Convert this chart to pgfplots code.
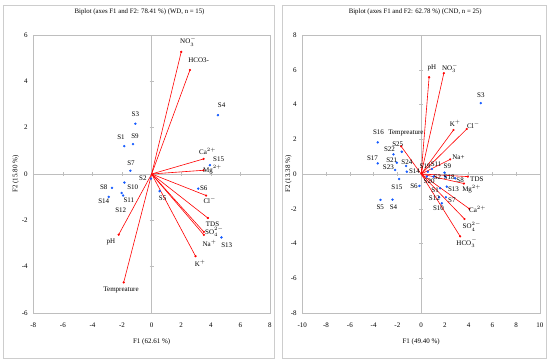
\documentclass[border=0pt]{standalone}
\usepackage{pgfplots}
\usepackage{pgfplotstable}
\usepackage{fontspec}
\setmainfont{Liberation Serif}
\pgfplotsset{compat=1.18}
\definecolor{obsblue}{RGB}{20,90,255}
\definecolor{framegray}{RGB}{205,205,205}
\definecolor{boxgray}{RGB}{190,190,190}

% ---------- WD (left) ----------
\pgfplotstableread{
x y lab dx dy
-1.85 1.20 S1 -3.3 9
-0.05 -0.20 S2 -8 0
-1.10 2.17 S3 0 9.3
4.48 2.54 S4 3.7 10
0.54 -0.74 S5 3 -7
3.15 -0.63 S6 5.5 0
-1.44 0.14 S7 0.7 8
-2.68 -0.60 S8 -8.3 0.3
-1.26 1.29 S9 2 7.7
-1.84 -0.37 S10 8.3 -4.3
-2.03 -0.82 S11 7.3 -7
-1.93 -0.93 S12 -2.3 -14.3
4.72 -2.74 S13 5.3 -8
-2.90 -0.99 S14 -5 -4.3
3.94 0.38 S15 8.7 6
}\wdobs

\pgfplotstableread{
x y lab dx dy
2.00 5.27 {NO$_3^-$} 7 10
2.59 4.49 {HCO3-} 8.7 9.3
3.51 0.65 {Ca$^{2+}$} 4 7.7
3.50 0.16 {Mg$^{2+}$} 9 0.7
3.68 -0.93 {Cl$^-$} 3.7 -5.3
3.80 -1.90 {TDS} 4.7 -6
3.53 -2.50 {SO\smash{$_4^{2-}$}} 10.5 0
3.53 -2.63 {Na\smash{$^+$}} 5.7 -9
2.97 -3.55 {K$^+$} 4.7 -7.3
-2.23 -2.62 {pH} -7.7 -7.7
-1.89 -4.68 {Tempreature} -2.7 -7.3
}\wdvar

% ---------- CND (right) ----------
\pgfplotstableread{
x y lab dx dy
1.60 -0.82 S1 -5 -1.7
1.04 -0.15 S2 4 -1
5.02 4.08 S3 0 7.7
-2.41 -1.48 S4 1 -7.7
-3.42 -1.49 S5 -0.3 -7.3
-0.14 -0.69 S6 -5.5 0
2.08 -1.34 S7 6 -3.3
2.86 -0.25 S8 5 -1.7
1.96 0.08 S9 3 6
1.74 -1.69 S10 -3.3 -5
0.90 0.29 S11 4.3 5
1.51 -1.34 S12 -4.7 -1
2.16 -0.73 S13 6.7 -2.7
-1.21 0.13 S14 7.7 1
-1.85 -0.29 S15 -2.3 -7.7
-3.65 1.82 S16 0.7 9.7
-3.65 0.61 S17 -5.3 5
2.02 -0.15 S18 4 -1
0.56 0.13 S19 -2.7 5.7
0.48 -0.15 S20 2.3 -4.3
-2.05 0.65 S21 -5 2
-2.33 1.13 S22 -4 5
-2.19 0.23 S23 -6.7 2.3
-1.26 0.46 S24 0.7 3.3
-1.63 1.28 S25 -4 7.3
}\cndobs

\pgfplotstableread{
x y lab dx dy
0.67 5.57 {pH} 2.7 9
1.91 5.80 {NO$_3^-$} 6.3 5
2.72 2.53 {K$^+$} 1.7 6.7
3.84 2.59 {Cl$^-$} 6.7 4
2.44 0.84 {Na+} 8.3 1.7
3.93 -0.15 {TDS} 9 -2.7
3.60 -0.55 {Mg$^{2+}$} 7.7 -5.3
4.05 -2.00 {Ca\smash{$^{2+}$}} 8.3 -1.2
3.65 -2.59 {SO\smash{$_4^{2-}$}} 7.3 -7.5
3.28 -3.59 {HCO$_3^-$} 6.7 -6.7
-1.68 1.59 {Tempreature} 4.7 13.7
}\cndvar

\pgfplotsset{
  biplot/.style={
    scale only axis, clip=false,
    height=278pt,
    font=\fontsize{7}{8}\selectfont,
    axis line style={draw=boxgray},
    tick style={draw=none},
    /pgf/number format/assume math mode=true,
    xticklabel style={anchor=center, yshift=-12pt, font=\fontsize{7}{8}\selectfont},
    yticklabel style={anchor=east, inner sep=0pt, xshift=-5.5pt, font=\fontsize{7}{8}\selectfont},
    title style={anchor=center, font=\fontsize{6.8}{8}\selectfont},
    xlabel style={anchor=center, at={(axis description cs:0.5,-0.103)}, font=\fontsize{7}{8}\selectfont},
  },
  lab/.style={
    point meta=explicit symbolic,
    visualization depends on={\thisrow{dx} \as \dx},
    visualization depends on={\thisrow{dy} \as \dy},
    nodes near coords,
    every node near coord/.append style={anchor=center, inner sep=0pt,
      xshift=\dx pt, yshift=\dy pt, text=black, font=\fontsize{7}{8}\selectfont},
  },
}

\begin{document}
\begin{tikzpicture}
\useasboundingbox (0,0) rectangle (550pt,363pt);
\draw[framegray] (3pt,5pt) rectangle (274pt,358pt);
\draw[framegray] (282pt,5pt) rectangle (546pt,358pt);

\begin{axis}[biplot,
  at={(33.3pt,50pt)}, anchor=south west, width=236.7pt,
  xmin=-8, xmax=8, ymin=-6, ymax=6,
  xtick={-8,-6,...,8}, ytick={-6,-4,...,6},
  title={Biplot (axes F1 and F2: 78.41 \%) (WD, n = 15)},
  title style={at={(axis description cs:0.449,1.063)}},
  xlabel={F1 (62.61 \%)},
  ylabel={F2 (15.80 \%)},
  ylabel style={anchor=center, at={(axis description cs:-0.074,0.5)}, font=\fontsize{7}{8}\selectfont},
]
\draw[boxgray] (axis cs:0,-6) -- (axis cs:0,6);
\draw[boxgray] (axis cs:-8,0) -- (axis cs:8,0);
\pgfplotsinvokeforeach{-4,-2,2,4}{\draw[boxgray] (axis cs:0,#1) ++(-2pt,0pt) -- ++(4pt,0pt);}
\pgfplotsinvokeforeach{-6,-4,-2,2,4,6}{\draw[boxgray] (axis cs:#1,0) ++(0pt,-2pt) -- ++(0pt,4pt);}
\addplot[red, line width=0.6pt, no markers, quiver={u=\thisrow{x}, v=\thisrow{y}}] table[x expr=0, y expr=0] {\wdvar};
\addplot[only marks, mark=*, mark size=0.9pt, red, lab] table[meta=lab] {\wdvar};
\addplot[only marks, mark=*, mark size=1.0pt, obsblue, lab] table[meta=lab] {\wdobs};
\end{axis}

\begin{axis}[biplot,
  at={(302.3pt,50pt)}, anchor=south west, width=237.7pt,
  xmin=-10, xmax=10, ymin=-8, ymax=8,
  xtick={-10,-8,...,10}, ytick={-8,-6,...,8},
  title={Biplot (axes F1 and F2: 62.78 \%) (CND, n = 25)},
  title style={at={(axis description cs:0.475,1.063)}},
  xlabel={F1 (49.40 \%)},
  ylabel={F2 (13.38 \%)},
  ylabel style={anchor=center, at={(axis description cs:-0.058,0.5)}, font=\fontsize{7}{8}\selectfont},
]
\draw[boxgray] (axis cs:0,-8) -- (axis cs:0,8);
\draw[boxgray] (axis cs:-10,0) -- (axis cs:10,0);
\pgfplotsinvokeforeach{-6,-4,-2,2,4,6}{\draw[boxgray] (axis cs:0,#1) ++(-2pt,0pt) -- ++(4pt,0pt);}
\pgfplotsinvokeforeach{-8,-6,-4,-2,2,4,6,8}{\draw[boxgray] (axis cs:#1,0) ++(0pt,-2pt) -- ++(0pt,4pt);}
\addplot[red, line width=0.6pt, no markers, quiver={u=\thisrow{x}, v=\thisrow{y}}] table[x expr=0, y expr=0] {\cndvar};
\addplot[only marks, mark=*, mark size=0.9pt, red, lab] table[meta=lab] {\cndvar};
\addplot[only marks, mark=*, mark size=1.0pt, obsblue, lab] table[meta=lab] {\cndobs};
\end{axis}
\end{tikzpicture}
\end{document}
